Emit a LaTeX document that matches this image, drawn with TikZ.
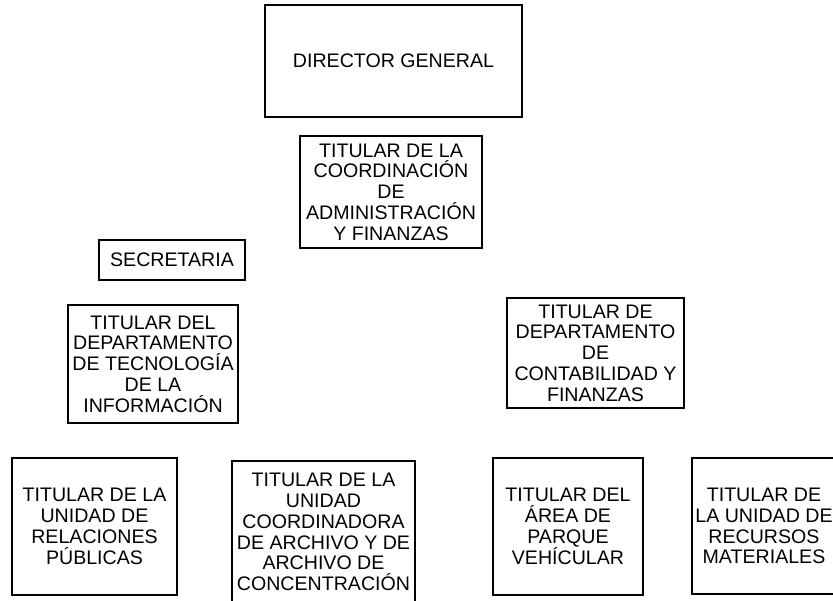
\documentclass[tikz,border=0pt]{standalone}
\usepackage{fontspec}
\setmainfont{Liberation Sans}
\usepackage{tikz}

\begin{document}
\begin{tikzpicture}[x=1pt,y=-1pt,
    caja/.style={draw,line width=1.1pt,inner sep=0pt,align=center,
        font=\fontsize{19.6}{20.8}\selectfont}]
    % --- 1. marco del dibujo ---
    \useasboundingbox (0,0) rectangle (833,600);

    % --- 2. dirección y coordinación ---
    \node[caja,minimum width=257pt,minimum height=112pt] (dir) at (393.5,61) {DIRECTOR GENERAL};
    \node[caja,minimum width=182pt,minimum height=112pt] (coord) at (391,192)
        {TITULAR DE LA\\COORDINACIÓN\\DE\\ADMINISTRACIÓN\\Y FINANZAS};

    % --- 3. secretaria y departamentos ---
    \node[caja,minimum width=146pt,minimum height=40pt] (sec) at (172,260) {SECRETARIA};
    \node[caja,minimum width=170pt,minimum height=118pt] (tec) at (153,364)
        {TITULAR DEL\\DEPARTAMENTO\\DE TECNOLOGÍA\\DE LA\\INFORMACIÓN};
    \node[caja,minimum width=177pt,minimum height=110pt] (cont) at (595.5,353)
        {TITULAR DE\\DEPARTAMENTO\\DE\\CONTABILIDAD Y\\FINANZAS};

    % --- 4. unidades y áreas ---
    \node[caja,minimum width=165pt,minimum height=137pt] (rp) at (94.5,526.5)
        {TITULAR DE LA\\UNIDAD DE\\RELACIONES\\PÚBLICAS};
    \node[caja,minimum width=183pt,minimum height=142pt] (arch) at (323.5,532)
        {TITULAR DE LA\\UNIDAD\\COORDINADORA\\DE ARCHIVO Y DE\\ARCHIVO DE\\CONCENTRACIÓN};
    \node[caja,minimum width=150pt,minimum height=137pt] (parque) at (568,526.5)
        {TITULAR DEL\\ÁREA DE\\PARQUE\\VEHÍCULAR};
    \node[caja,minimum width=144pt,minimum height=136pt] (rm) at (764,526)
        {TITULAR DE\\LA UNIDAD DE\\RECURSOS\\MATERIALES};
\end{tikzpicture}
\end{document}
